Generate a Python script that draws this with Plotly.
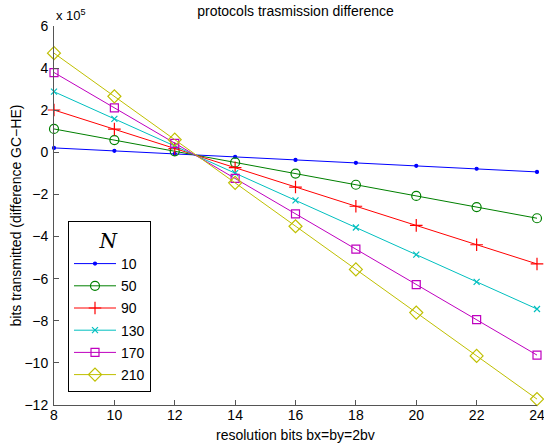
import plotly.graph_objects as go

x_vals = [8, 10, 12, 14, 16, 18, 20, 22, 24]
n_labels = ["10", "50", "90", "130", "170", "210"]
# values in units of 1e5 bits
s10 = [0.21, 0.07, -0.07, -0.21, -0.36, -0.50, -0.64, -0.78, -0.93]
s50 = [1.11, 0.58, 0.05, -0.48, -1.01, -1.54, -2.07, -2.60, -3.13]
s90 = [2.01, 1.10, 0.18, -0.73, -1.65, -2.56, -3.47, -4.39, -5.30]
s130 = [2.88, 1.59, 0.30, -0.99, -2.28, -3.57, -4.86, -6.15, -7.44]
s170 = [3.79, 2.11, 0.43, -1.24, -2.92, -4.60, -6.28, -7.95, -9.63]
s210 = [4.71, 2.66, 0.60, -1.45, -3.51, -5.56, -7.61, -9.67, -11.72]
series = [s10, s50, s90, s130, s170, s210]
scale = 1e5

y_ticks = [6, 4, 2, 0, -2, -4, -6, -8, -10, -12]
x_ticks = [8, 10, 12, 14, 16, 18, 20, 22, 24]

colors = ["rgb(0,0,255)", "rgb(0,128,0)", "rgb(255,0,0)", "rgb(0,191,191)",
          "rgb(191,0,191)", "rgb(191,191,0)"]
symbols = ["circle", "circle-open", "cross-thin-open", "x-thin-open",
           "square-open", "diamond-open"]
sizes = [3, 9, 9, 6, 8, 10]

fig = go.Figure()
for lab, s, c, sym, sz in zip(n_labels, series, colors, symbols, sizes):
    fig.add_trace(go.Scatter(
        x=x_vals, y=[v * scale for v in s], name=lab, mode="lines+markers",
        line=dict(color=c, width=1), cliponaxis=False, legendgroup=lab,
        marker=dict(symbol=sym, size=sz, color=c, line=dict(color=c, width=1.2)),
    ))

font = "Liberation Sans, Arial, Helvetica, sans-serif"
fig.update_layout(
    width=544, height=447,
    margin=dict(l=54, r=7, t=26, b=42),
    paper_bgcolor="white", plot_bgcolor="white",
    font=dict(family=font, size=13, color="black"),
    title=dict(text="protocols trasmission difference", x=0.5, xanchor="center",
               xref="paper", y=1 - 11 / 447, yanchor="middle", font=dict(size=14)),
    xaxis=dict(range=[8, 24], tickvals=x_ticks, ticks="inside", ticklen=5,
               showline=True, linecolor="#555", linewidth=1, showgrid=False,
               zeroline=False, tickcolor="#555", automargin=False,
               ticklabelstandoff=-3, ticklabeloverflow="allow", tickfont=dict(size=14)),
    yaxis=dict(range=[-12 * scale, 6 * scale], tickvals=[t * scale for t in y_ticks],
               ticktext=[str(t).replace("-", "\u2212") for t in y_ticks],
               ticks="inside", ticklen=5, showline=True, linecolor="#555", linewidth=1,
               showgrid=False, zeroline=False, tickcolor="#555", automargin=False,
               ticklabelstandoff=2, ticklabeloverflow="allow", tickfont=dict(size=14)),
    legend=dict(x=14 / 483, y=13 / 379, xanchor="left", yanchor="bottom",
                bgcolor="white", bordercolor="black", borderwidth=1,
                title=dict(text="<i>N</i>", side="top center",
                           font=dict(family="DejaVu Serif, Liberation Serif, serif", size=20)),
                font=dict(size=14), tracegroupgap=1, itemwidth=42, traceorder="grouped"),
    showlegend=True,
)
fig.add_annotation(xref="paper", yref="paper", x=0.0, y=1.0, xanchor="left", yanchor="bottom",
                   text="x 10<sup>5</sup>", showarrow=False, font=dict(size=13), yshift=1)
fig.add_annotation(xref="paper", yref="paper", x=0.5, y=0, yanchor="middle", xanchor="center",
                   text="resolution bits bx=by=2bv", showarrow=False, font=dict(size=14),
                   yshift=-30)
fig.add_annotation(xref="paper", yref="paper", x=0, y=0.5, xanchor="center", yanchor="middle",
                   text="bits transmitted (difference GC\u2212HE)", textangle=-90,
                   showarrow=False, font=dict(size=14), xshift=-39)

fig.write_html("out.html", config={"displayModeBar": False},
               post_script="document.body.style.margin='0';")
